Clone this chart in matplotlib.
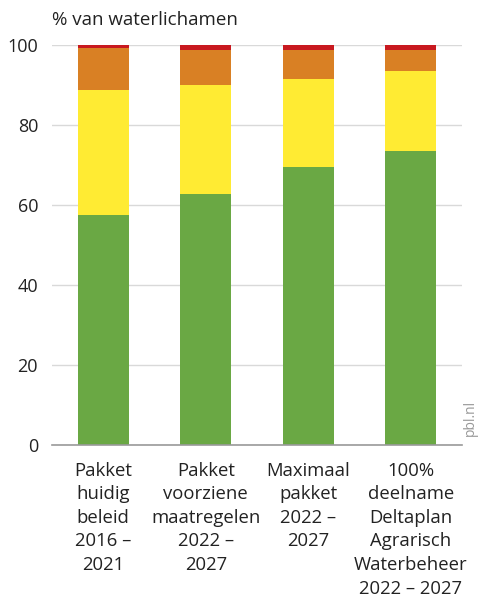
import matplotlib
matplotlib.use("Agg")
import matplotlib.pyplot as plt
import numpy as np

plt.rcParams['font.family'] = ['Open Sans', 'DejaVu Sans']

categories = [
    "Pakket\nhuidig\nbeleid\n2016 –\n2021",
    "Pakket\nvoorziene\nmaatregelen\n2022 –\n2027",
    "Maximaal\npakket\n2022 –\n2027",
    "100%\ndeelname\nDeltaplan\nAgrarisch\nWaterbeheer\n2022 – 2027",
]
# Share of water bodies per class (stacked, bottom to top)
goed = [57.5, 62.8, 69.5, 73.5]
matig = [31.2, 27.2, 22.1, 19.9]
ontoereikend = [10.5, 8.8, 7.2, 5.4]
slecht = [0.8, 1.2, 1.2, 1.2]

series = [goed, matig, ontoereikend, slecht]
colors = ["#6aa844", "#ffeb33", "#d98024", "#c8191f"]

fig = plt.figure(figsize=(4.86, 6.03), dpi=100)
ax = fig.add_axes([52/486, 1 - 445/603, 410/486, 400/603])

x = np.arange(len(categories))
bottom = np.zeros(len(categories))
for vals, col in zip(series, colors):
    ax.bar(x, vals, bottom=bottom, width=0.5, color=col, zorder=3)
    bottom += np.array(vals)

ax.set_xlim(-0.5, 3.5)
ax.set_ylim(0, 100)
ax.set_yticks([0, 20, 40, 60, 80, 100])
ax.yaxis.grid(True, color="#d9d9d9", linewidth=1, zorder=0)
ax.set_axisbelow(True)
for s in ["top", "right", "left"]:
    ax.spines[s].set_visible(False)
ax.spines["bottom"].set_color("#9a9a9a")
ax.spines["bottom"].set_linewidth(1.2)
ax.spines["bottom"].set_zorder(4)
ax.tick_params(axis="y", length=0, pad=10, labelsize=13, colors="#222222")
ax.tick_params(axis="x", length=0, pad=12, labelsize=13.3, colors="#222222")
ax.set_xticks(x)
ax.set_xticklabels(categories, linespacing=1.4)

fig.text(52/486, 1 - 20/603, "% van waterlichamen", ha="left", va="center",
         fontsize=13.5, color="#222222")
fig.text(470/486, 1 - 418/603, "pbl.nl", rotation=90, ha="center", va="center",
         fontsize=10, color="#999999")

fig.savefig("out.png", dpi=100)
